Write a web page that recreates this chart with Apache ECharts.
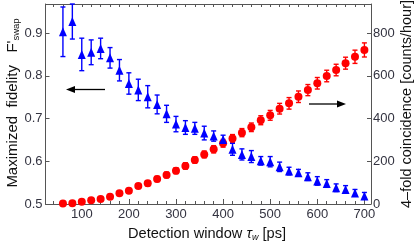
<!DOCTYPE html>
<html><head><meta charset="utf-8">
<script src="https://cdn.jsdelivr.net/npm/echarts@6/dist/echarts.min.js"></script>
<style>html,body{margin:0;padding:0;background:#fff}#c{width:415px;height:244px}</style>
</head><body><div id="c"></div>
<script>
// ---- data ----
const windows = [60,80,100,120,140,160,180,200,220,240,260,280,300,320,340,360,380,400,420,440,460,480,500,520,540,560,580,600,620,640,660,680,700];
const fidelity = [0.903,0.927,0.850,0.855,0.864,0.842,0.813,0.782,0.767,0.751,0.733,0.711,0.687,0.679,0.677,0.666,0.659,0.651,0.628,0.616,0.611,0.601,0.599,0.587,0.577,0.573,0.564,0.554,0.548,0.538,0.534,0.526,0.519];
const fidelityErr = [0.058,0.041,0.038,0.029,0.024,0.024,0.025,0.025,0.025,0.026,0.022,0.02,0.018,0.016,0.014,0.016,0.012,0.01,0.014,0.013,0.014,0.01,0.012,0.011,0.009,0.008,0.009,0.01,0.009,0.009,0.009,0.008,0.008];
const counts = [2,3,11,17,23,34,50,62,84,97,117,136,156,178,206,232,256,284,307,334,359,392,415,446,471,502,533,565,599,627,659,689,721];
const countsErr = [2,3,5,6,7,8,9,10,11,12,12,13,14,15,15,16,17,18,18,19,20,21,23,25,27,27,26,27,27,27,28,31,33];
const xTicks = [100,200,300,400,500,600,700];
const xMinor = [40,60,80,120,140,160,180,220,240,260,280,320,340,360,380,420,440,460,480,520,540,560,580,620,640,660,680];
const leftTicks = [0.5,0.6,0.7,0.8,0.9];
const rightTicks = [0,200,400,600,800];

const FONT = 'Liberation Sans, Arial, sans-serif';
const NFONT = '"Liberation Sans Narrow", "Liberation Sans", Arial, sans-serif';
const LBL = '#333340';
const AX = '#555';

function errSeries(name, yIdx, vals, errs, color){
  return {
    type:'custom', name, xAxisIndex:0, yAxisIndex:yIdx, z:3,
    data: windows.map((x,i)=>[x, vals[i], errs[i]]),
    renderItem(params, api){
      const x = api.value(0), y = api.value(1), e = api.value(2);
      const p1 = api.coord([x, y+e]), p2 = api.coord([x, y-e]);
      const w = 2.5;
      const st = {stroke: color, lineWidth: 1.4};
      return {type:'group', children:[
        {type:'line', shape:{x1:p1[0],y1:p1[1],x2:p2[0],y2:p2[1]}, style:st},
        {type:'line', shape:{x1:p1[0]-w,y1:p1[1],x2:p1[0]+w,y2:p1[1]}, style:st},
        {type:'line', shape:{x1:p2[0]-w,y1:p2[1],x2:p2[0]+w,y2:p2[1]}, style:st}
      ]};
    }
  };
}

const chart = echarts.init(document.getElementById('c'), null, {renderer:'canvas'});
chart.setOption({
  animation:false,
  grid:{left:45.5, right:44, top:4, bottom:40},
  xAxis:[
    {type:'value', position:'bottom', min:23, max:714,
     axisLine:{show:true, lineStyle:{color:AX, width:1}},
     axisTick:{show:true, inside:true, length:5, customValues:xTicks, lineStyle:{color:AX}},
     axisLabel:{show:true, customValues:xTicks, margin:4, color:LBL, fontFamily:NFONT, fontSize:13},
     splitLine:{show:false}},
    {type:'value', position:'bottom', min:23, max:714,
     axisLine:{show:false},
     axisTick:{show:true, inside:true, length:3, customValues:xMinor, lineStyle:{color:AX}},
     axisLabel:{show:false}, splitLine:{show:false}},
    {type:'value', position:'top', min:23, max:714,
     axisLine:{show:true, lineStyle:{color:AX, width:1}},
     axisTick:{show:true, inside:true, length:3, customValues:xMinor.concat(xTicks), lineStyle:{color:AX}},
     axisLabel:{show:false}, splitLine:{show:false}}
  ],
  yAxis:[
    {type:'value', position:'left', min:0.5, max:0.968,
     axisLine:{show:true, lineStyle:{color:AX, width:1}},
     axisTick:{show:true, inside:true, length:4, customValues:leftTicks, lineStyle:{color:AX}},
     axisLabel:{customValues:leftTicks, margin:3, color:LBL, fontFamily:NFONT, fontSize:13,
       formatter:v=>v.toFixed(1)},
     splitLine:{show:false}},
    {type:'value', position:'right', min:0, max:936,
     axisLine:{show:true, lineStyle:{color:AX, width:1}},
     axisTick:{show:true, inside:true, length:4, customValues:rightTicks, lineStyle:{color:AX}},
     axisLabel:{customValues:rightTicks, margin:2, color:LBL, fontFamily:NFONT, fontSize:13},
     splitLine:{show:false}}
  ],
  series:[
    errSeries('countsErr', 1, counts, countsErr, '#ff0000'),
    {type:'scatter', name:'counts', yAxisIndex:1, z:4,
     data: windows.map((x,i)=>[x, counts[i]]),
     symbol:'circle', symbolSize:8, itemStyle:{color:'#ff0000', opacity:1}},
    errSeries('fidErr', 0, fidelity, fidelityErr, '#0000ff'),
    {type:'scatter', name:'fidelity', yAxisIndex:0, z:5,
     data: windows.map((x,i)=>[x, fidelity[i]]),
     symbol:'triangle', symbolSize:[8,9], itemStyle:{color:'#0000ff', opacity:1}}
  ],
  graphic:[
    {type:'line', shape:{x1:105,y1:89.5,x2:73,y2:89.5}, style:{stroke:'#000', lineWidth:1.3}},
    {type:'polygon', shape:{points:[[66,89.5],[75,86],[75,93]]}, style:{fill:'#000'}},
    {type:'line', shape:{x1:309,y1:104,x2:338,y2:104}, style:{stroke:'#000', lineWidth:1.3}},
    {type:'polygon', shape:{points:[[346,104],[337,100.5],[337,107.5]]}, style:{fill:'#000'}},
    {type:'text', x:207, y:234, style:{
      text:'Detection window {i|τ}{sub|w} [ps]', fill:'#111', font:'14.6px '+FONT,
      align:'center', verticalAlign:'middle',
      rich:{i:{fontStyle:'italic', fontSize:14.6, fontFamily:FONT, fill:'#111'},
            sub:{fontSize:9, fontFamily:FONT, fill:'#111', padding:[6,0,0,0], fontStyle:'italic'}}}},
    {type:'text', x:13, y:103, rotation:Math.PI/2, style:{
      text:"Maximized  fidelity   F'{sub|swap}", fill:'#111', font:'15px '+FONT,
      align:'center', verticalAlign:'middle',
      rich:{sub:{fontSize:9.5, fontFamily:FONT, fill:'#111', padding:[6,0,0,0]}}}},
    {type:'text', x:407, y:104, rotation:Math.PI/2, style:{
      text:'4–fold coincidence [counts/hour]', fill:'#111', font:'14.5px '+FONT,
      align:'center', verticalAlign:'middle'}}
  ]
});
</script></body></html>
